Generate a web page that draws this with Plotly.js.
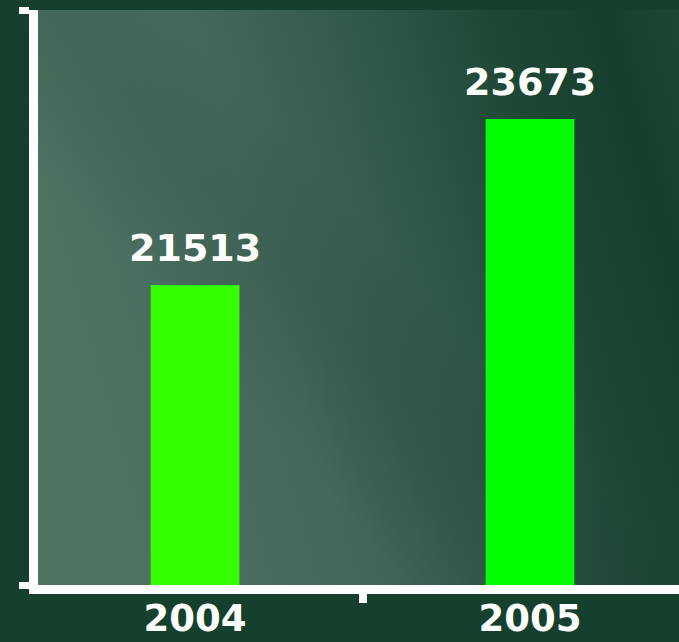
<!DOCTYPE html>
<html>
<head>
<meta charset="utf-8">
<script src="https://cdn.plot.ly/plotly-3.0.1.min.js"></script>
<style>
html,body{margin:0;padding:0;background:#15402d;}
#chart{width:679px;height:642px;}
</style>
</head>
<body>
<div id="chart"></div>
<script>
// ---- data ----
const years = ['2004', '2005'];
const values = [21513, 23673];
const barColors = ['#33ff00', '#00ff00'];

// ---- background gradient for plot area ----
const svg = '<svg xmlns="http://www.w3.org/2000/svg" width="640" height="575" viewBox="0 0 640 575" preserveAspectRatio="none">' +
  '<defs><linearGradient id="g" x1="0" y1="0.3" x2="1" y2="0.05">' +
  '<stop offset="0" stop-color="#4e7363"/>' +
  '<stop offset="0.3" stop-color="#44695a"/>' +
  '<stop offset="0.55" stop-color="#30584a"/>' +
  '<stop offset="0.75" stop-color="#1d4634"/>' +
  '<stop offset="0.9" stop-color="#163f2d"/>' +
  '<stop offset="1" stop-color="#1d4633"/>' +
  '</linearGradient>' +
  '<linearGradient id="s" x1="0" y1="1" x2="1" y2="0.2">' +
  '<stop offset="0.35" stop-color="#000" stop-opacity="0"/>' +
  '<stop offset="0.5" stop-color="#0b2a1c" stop-opacity="0.12"/>' +
  '<stop offset="0.62" stop-color="#000" stop-opacity="0"/>' +
  '</linearGradient></defs>' +
  '<rect width="640" height="575" fill="url(#g)"/>' +
  '<rect width="640" height="575" fill="url(#s)"/>' +
  '</svg>';
const bgSrc = 'data:image/svg+xml;charset=utf-8,' + encodeURIComponent(svg);

const yMin = 17609, yMax = 25091;

const trace = {
  type: 'bar',
  x: years,
  y: values,
  width: 0.265,
  marker: {color: barColors, line: {width: 0}},
  hoverinfo: 'none'
};

// category axis: annotation x given as category index
const annotations = years.map((yr, i) => ({
  x: i, y: values[i], xref: 'x', yref: 'y',
  text: String(values[i]),
  showarrow: false, xanchor: 'center', yanchor: 'bottom', yshift: 13,
  font: {family: 'DejaVu Sans', size: 38, color: '#ffffff', weight: 'bold'}
}));

const layout = {
  width: 679, height: 642,
  margin: {l: 38, r: 0, t: 10, b: 57, pad: 0},
  paper_bgcolor: '#15402d',
  plot_bgcolor: 'rgba(0,0,0,0)',
  showlegend: false,
  xaxis: {
    type: 'category',
    range: [-0.469, 1.445],
    showline: true, linecolor: '#ffffff', linewidth: 9,
    ticks: 'outside', tickson: 'boundaries', ticklen: 9, tickwidth: 8, tickcolor: '#ffffff',
    showgrid: false, zeroline: false,
    tickfont: {family: 'DejaVu Sans', size: 37, color: '#ffffff', weight: 'bold'},
    ticklabelstandoff: -7
  },
  yaxis: {
    range: [yMin, yMax],
    showline: true, linecolor: '#ffffff', linewidth: 9,
    ticks: 'outside', tickmode: 'array', tickvals: [yMin, yMax], ticklen: 10, tickwidth: 7, tickcolor: '#ffffff',
    showticklabels: false, showgrid: false, zeroline: false
  },
  images: [{
    source: bgSrc, xref: 'paper', yref: 'paper', x: 0, y: 1, sizex: 1, sizey: 1,
    sizing: 'stretch', xanchor: 'left', yanchor: 'top', layer: 'below'
  }],
  annotations: annotations
};

Plotly.newPlot('chart', [trace], layout, {displayModeBar: false, staticPlot: true});
</script>
</body>
</html>
